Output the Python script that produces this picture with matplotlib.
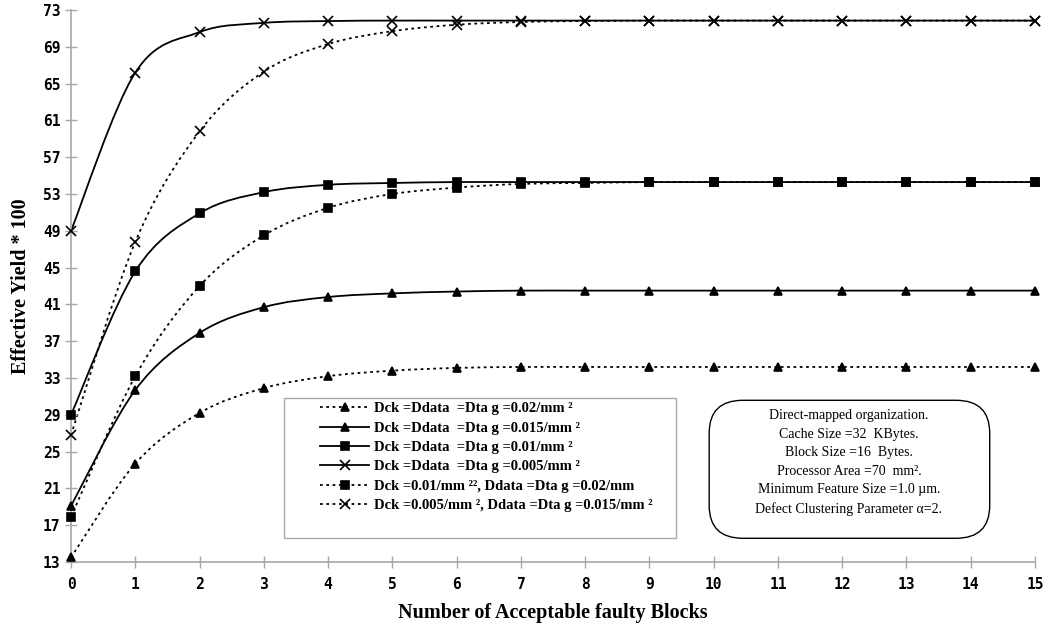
import matplotlib
matplotlib.use('Agg')
import matplotlib.pyplot as plt
from matplotlib.path import Path
from matplotlib.patches import PathPatch, FancyBboxPatch, Rectangle
from matplotlib.lines import Line2D

blocks = list(range(16))

# valores (Effective Yield * 100)
y_tri_dot = [13.5, 23.7, 29.2, 31.9, 33.2, 33.8, 34.1, 34.2, 34.2, 34.2, 34.2, 34.2, 34.2, 34.2, 34.2, 34.2]
y_tri_sol = [19.1, 31.7, 37.9, 40.7, 41.8, 42.2, 42.4, 42.5, 42.5, 42.5, 42.5, 42.5, 42.5, 42.5, 42.5, 42.5]
y_sq_sol = [29.0, 44.6, 50.9, 53.2, 54.0, 54.2, 54.3, 54.3, 54.3, 54.3, 54.3, 54.3, 54.3, 54.3, 54.3, 54.3]
y_x_sol = [49.0, 66.2, 70.6, 71.6, 71.8, 71.85, 71.85, 71.85, 71.85, 71.85, 71.85, 71.85, 71.85, 71.85, 71.85, 71.85]
y_sq_dot = [17.9, 33.2, 43.0, 48.5, 51.5, 53.0, 53.7, 54.1, 54.2, 54.3, 54.3, 54.3, 54.3, 54.3, 54.3, 54.3]
y_x_dot = [26.8, 47.8, 59.8, 66.3, 69.3, 70.7, 71.4, 71.7, 71.8, 71.85, 71.85, 71.85, 71.85, 71.85, 71.85, 71.85]

labels = ['Dck =Ddata  =Dta g =0.02/mm ²',
          'Dck =Ddata  =Dta g =0.015/mm ²',
          'Dck =Ddata  =Dta g =0.01/mm ²',
          'Dck =Ddata  =Dta g =0.005/mm ²',
          'Dck =0.01/mm ²², Ddata =Dta g =0.02/mm',
          'Dck =0.005/mm ², Ddata =Dta g =0.015/mm ²']

info_lines = ['Direct-mapped organization.',
              'Cache Size =32  KBytes.',
              'Block Size =16  Bytes.',
              'Processor Area =70  mm².',
              'Minimum Feature Size =1.0 µm.',
              'Defect Clustering Parameter α=2.']

dotted = (0, (1.5, 2.0))
series = [
    (y_tri_dot, '^', dotted, 6),
    (y_tri_sol, '^', '-', 6),
    (y_sq_sol, 's', '-', 6),
    (y_x_sol, 'x', '-', 7),
    (y_sq_dot, 's', dotted, 6),
    (y_x_dot, 'x', dotted, 7),
]


def SmoothPath(xs, ys):
    # curva suave tipo excel (bezier pelos pontos)
    pts = list(zip(xs, ys))
    verts = [pts[0]]
    codes = [Path.MOVETO]
    n = len(pts)
    for i in range(n - 1):
        p0 = pts[i - 1] if i > 0 else pts[i]
        p1 = pts[i]
        p2 = pts[i + 1]
        p3 = pts[i + 2] if i + 2 < n else pts[i + 1]
        c1 = (p1[0] + (p2[0] - p0[0]) / 6, p1[1] + (p2[1] - p0[1]) / 6)
        c2 = (p2[0] - (p3[0] - p1[0]) / 6, p2[1] - (p3[1] - p1[1]) / 6)
        verts += [c1, c2, p2]
        codes += [Path.CURVE4] * 3
    return Path(verts, codes)


fig = plt.figure(figsize=(10.46, 6.3), dpi=100)
ax = fig.add_axes([0.0679, 0.1079, 0.9216, 0.8762])

handles = []
for (ys, mk, ls, ms), lab in zip(series, labels):
    ax.add_patch(PathPatch(SmoothPath(blocks, ys), facecolor='none', edgecolor='black',
                           linewidth=1.3, linestyle=ls, clip_on=False, capstyle='butt'))
    ax.plot(blocks, ys, linestyle='none', marker=mk, markersize=ms, color='black',
            markeredgewidth=1.2, clip_on=False, zorder=3)
    handles.append(Line2D([], [], color='black', linewidth=1.3, linestyle=ls,
                          marker=mk, markersize=ms, markeredgewidth=1.2, label=lab))

ax.set_xlim(0, 15)
ax.set_ylim(13, 73)
ax.set_xticks(blocks)
ax.set_yticks(range(13, 74, 4))
for s in ['top', 'right']:
    ax.spines[s].set_visible(False)
for s in ['left', 'bottom']:
    ax.spines[s].set_color('#a8a8a8')
    ax.spines[s].set_linewidth(1.2)
ax.tick_params(direction='inout', length=8, color='#a8a8a8', width=1)
ax.tick_params(axis='x', pad=7)
for t in ax.get_xticklabels() + ax.get_yticklabels():
    t.set_fontfamily('DejaVu Sans Mono')
    t.set_fontweight('bold')
    t.set_fontsize(10.5)

ax.set_xlabel('Number of Acceptable faulty Blocks', fontfamily='Liberation Serif',
              fontweight='bold', fontsize=14.5, labelpad=8)
ax.set_ylabel('Effective Yield * 100', fontfamily='Liberation Serif',
              fontweight='bold', fontsize=14.5, labelpad=9)

# caixa da legenda
ax.add_patch(Rectangle((0.221, 0.043), 0.407, 0.254, transform=ax.transAxes,
                       facecolor='white', edgecolor='#a8a8a8', linewidth=1, zorder=4))
leg = ax.legend(handles=handles, loc='upper left', bbox_to_anchor=(0.255, 0.295),
                frameon=False, handlelength=3.4, handletextpad=0.3, labelspacing=0.42,
                borderaxespad=0, borderpad=0.2,
                prop={'family': 'Liberation Serif', 'weight': 'bold', 'size': 10.5})
leg.set_zorder(5)

# caixa de texto arredondada
ax.add_patch(FancyBboxPatch((0.662, 0.043), 0.291, 0.25, transform=ax.transAxes,
                            boxstyle='round,pad=0,rounding_size=0.035',
                            mutation_aspect=1.7, facecolor='white', edgecolor='black',
                            linewidth=1, zorder=4))
ax.text(0.807, 0.18, '\n'.join(info_lines), transform=ax.transAxes, ha='center', va='center',
        fontfamily='Liberation Serif', fontsize=10, linespacing=1.56, zorder=5)

fig.savefig('out.png', dpi=100)
